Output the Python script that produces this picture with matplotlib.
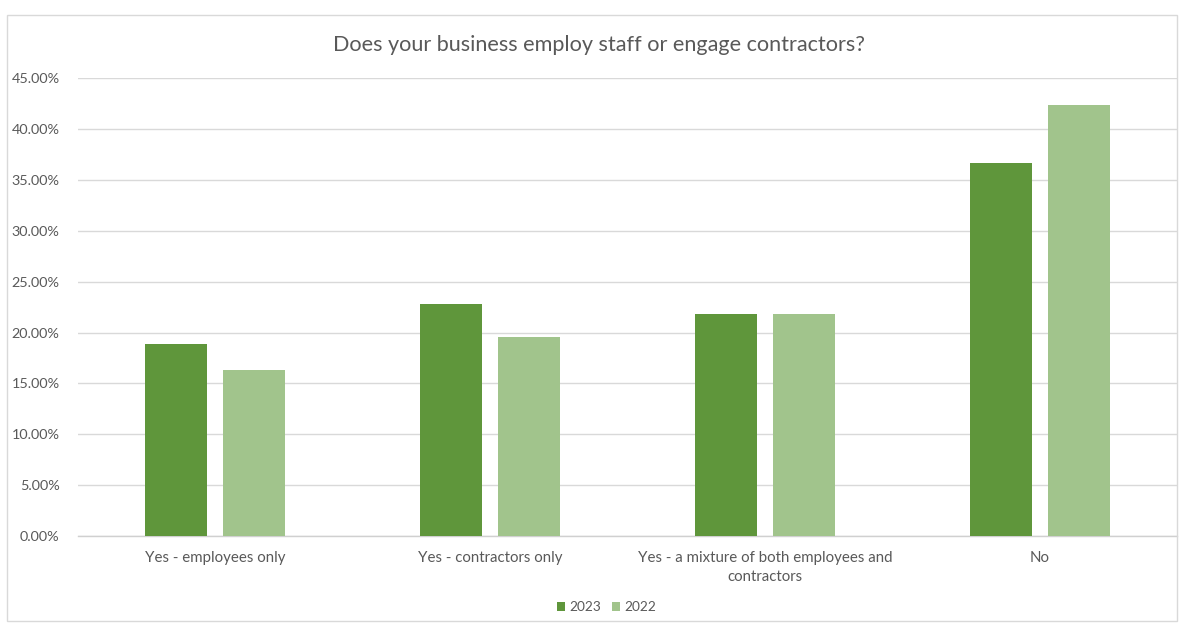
import matplotlib
matplotlib.use("Agg")
import matplotlib.pyplot as plt
import numpy as np
from matplotlib.patches import Rectangle
from matplotlib.ticker import FuncFormatter, MultipleLocator

plt.rcParams['font.family'] = ['Lato', 'DejaVu Sans']

categories = ["Yes - employees only", "Yes - contractors only",
              "Yes - a mixture of both employees and\ncontractors", "No"]
series_names = ["2023", "2022"]
values_2023 = [18.85, 22.78, 21.8, 36.65]
values_2022 = [16.33, 19.6, 21.8, 42.38]
colors = ["#5f963b", "#a1c48c"]
text_color = "#595959"

fig = plt.figure(figsize=(11.84, 6.26), dpi=100)
fig.patches.append(Rectangle((0.006, 0.008), 0.988, 0.968, transform=fig.transFigure,
                             fill=False, edgecolor="#d9d9d9", linewidth=1.0))

ax = fig.add_axes([0.0655, 0.1435, 0.929, 0.732])
x = np.arange(len(categories))
w = 0.2255
off = 0.142
ax.bar(x - off, values_2023, w, color=colors[0], label=series_names[0], zorder=3)
ax.bar(x + off, values_2022, w, color=colors[1], label=series_names[1], zorder=3)

ax.set_xlim(-0.5, len(categories) - 0.5)
ax.set_ylim(0, 45)
ax.yaxis.set_major_locator(MultipleLocator(5))
ax.yaxis.set_major_formatter(FuncFormatter(lambda v, p: f"{v:.2f}%"))
ax.grid(axis="y", color="#d9d9d9", linewidth=1.0, zorder=0)
for s in ["top", "right", "left"]:
    ax.spines[s].set_visible(False)
ax.spines["bottom"].set_color("#d0d0d0")
ax.spines["bottom"].set_linewidth(1.0)
ax.set_xticks(x)
ax.set_xticklabels(categories, fontsize=10.8, color=text_color, linespacing=1.45)
ax.tick_params(axis="x", length=0, pad=11)
ax.tick_params(axis="y", length=0, pad=13, labelsize=10.4, labelcolor=text_color)

fig.text(0.506, 0.928, "Does your business employ staff or engage contractors?",
         ha="center", va="center", fontsize=15.6, color=text_color)

fig.legend(loc="center", bbox_to_anchor=(0.512, 0.03), ncol=2, frameon=False,
           fontsize=9.8, labelcolor=text_color, handlelength=0.6, handleheight=0.6,
           handletextpad=0.3, columnspacing=0.8)

fig.savefig("out.png", dpi=100)
